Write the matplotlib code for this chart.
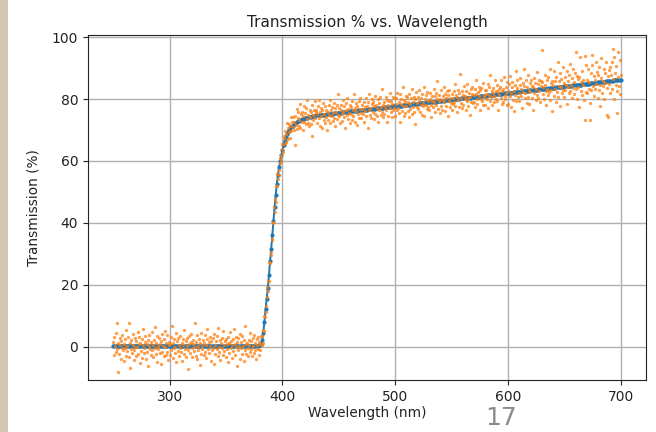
import numpy as np
import matplotlib
matplotlib.use("Agg")
import matplotlib.pyplot as plt
from matplotlib.patches import Rectangle

# Fitted / model curve (blue), 1 nm steps from 250 to 700 nm
model_flat = [
    0.3, 0.3, 0.3, 0.3, 0.3, 0.3, 0.3, 0.3, 0.3, 0.3, 0.3, 0.3, 0.3, 0.3, 0.3, 0.3, 0.3, 0.3, 0.3, 0.3,
    0.3, 0.3, 0.3, 0.3, 0.3, 0.3, 0.3, 0.3, 0.3, 0.3, 0.3, 0.3, 0.3, 0.3, 0.3, 0.3, 0.3, 0.3, 0.3, 0.3,
    0.3, 0.3, 0.3, 0.3, 0.3, 0.3, 0.3, 0.3, 0.3, 0.3, 0.3, 0.3, 0.3, 0.3, 0.3, 0.3, 0.3, 0.3, 0.3, 0.3,
    0.3, 0.3, 0.3, 0.3, 0.3, 0.3, 0.3, 0.3, 0.3, 0.3, 0.3, 0.3, 0.3, 0.3, 0.3, 0.3, 0.3, 0.3, 0.3, 0.3,
    0.3, 0.3, 0.3, 0.3, 0.3, 0.3, 0.3, 0.3, 0.3, 0.3, 0.3, 0.3, 0.3, 0.3, 0.3, 0.3, 0.3, 0.3, 0.3, 0.3,
    0.3, 0.3, 0.3, 0.3, 0.3, 0.3, 0.3, 0.3, 0.3, 0.3, 0.3, 0.3, 0.3, 0.3, 0.3, 0.3, 0.3, 0.3, 0.3, 0.3,
    0.3, 0.3, 0.3, 0.3, 0.3, 0.3, 0.3, 0.3, 0.3, 0.4, 0.6,
]
model_rise = [
    0.8, 2.0, 4.5, 8.0, 12.0, 15.5, 19.0, 23.0, 27.5,
    31.5, 36.0, 40.5, 45.0, 49.0, 52.5, 55.5, 58.0, 60.0, 61.8,
    63.5, 65.0, 66.5, 67.7, 68.7, 69.5, 70.0, 70.5, 71.0, 71.4,
    71.8, 72.1, 72.4, 72.6, 72.8, 73.0, 73.2, 73.4, 73.5, 73.7,
    73.8, 73.9, 74.0, 74.1, 74.2, 74.3, 74.4, 74.4, 74.5, 74.6,
]
model_plateau = [
    74.7, 74.7, 74.8, 74.8, 74.9, 74.9, 75.0, 75.0, 75.0, 75.1,
    75.1, 75.2, 75.2, 75.3, 75.3, 75.3, 75.4, 75.4, 75.5, 75.5,
    75.6, 75.6, 75.6, 75.7, 75.7, 75.8, 75.8, 75.9, 75.9, 75.9,
    76.0, 76.0, 76.1, 76.1, 76.2, 76.2, 76.2, 76.3, 76.3, 76.4,
    76.4, 76.4, 76.5, 76.5, 76.6, 76.6, 76.7, 76.7, 76.7, 76.8,
    76.8, 76.9, 76.9, 77.0, 77.0, 77.0, 77.1, 77.1, 77.2, 77.2,
    77.3, 77.3, 77.3, 77.4, 77.4, 77.5, 77.5, 77.6, 77.6, 77.6,
    77.7, 77.7, 77.8, 77.8, 77.9, 77.9, 77.9, 78.0, 78.0, 78.1,
    78.1, 78.2, 78.2, 78.2, 78.3, 78.3, 78.4, 78.4, 78.5, 78.5,
    78.5, 78.6, 78.6, 78.7, 78.7, 78.7, 78.8, 78.8, 78.9, 78.9,
    79.0, 79.0, 79.0, 79.1, 79.1, 79.2, 79.2, 79.3, 79.3, 79.3,
    79.4, 79.4, 79.5, 79.5, 79.6, 79.6, 79.6, 79.7, 79.7, 79.8,
    79.8, 79.9, 79.9, 79.9, 80.0, 80.0, 80.1, 80.1, 80.2, 80.2,
    80.2, 80.3, 80.3, 80.4, 80.4, 80.5, 80.5, 80.5, 80.6, 80.6,
    80.7, 80.7, 80.7, 80.8, 80.8, 80.9, 80.9, 81.0, 81.0, 81.0,
    81.1, 81.1, 81.2, 81.2, 81.3, 81.3, 81.3, 81.4, 81.4, 81.5,
    81.5, 81.6, 81.6, 81.6, 81.7, 81.7, 81.8, 81.8, 81.9, 81.9,
    81.9, 82.0, 82.0, 82.1, 82.1, 82.2, 82.2, 82.2, 82.3, 82.3,
    82.4, 82.4, 82.5, 82.5, 82.5, 82.6, 82.6, 82.7, 82.7, 82.8,
    82.8, 82.8, 82.9, 82.9, 83.0, 83.0, 83.0, 83.1, 83.1, 83.2,
    83.2, 83.3, 83.3, 83.4, 83.4, 83.4, 83.5, 83.5, 83.6, 83.6,
    83.6, 83.7, 83.7, 83.8, 83.8, 83.9, 83.9, 84.0, 84.0, 84.0,
    84.1, 84.1, 84.2, 84.2, 84.2, 84.3, 84.3, 84.4, 84.4, 84.5,
    84.5, 84.5, 84.6, 84.6, 84.7, 84.7, 84.8, 84.8, 84.8, 84.9,
    84.9, 85.0, 85.0, 85.1, 85.1, 85.1, 85.2, 85.2, 85.3, 85.3,
    85.4, 85.4, 85.4, 85.5, 85.5, 85.6, 85.6, 85.7, 85.7, 85.7,
    85.8, 85.8, 85.9, 85.9, 86.0, 86.0, 86.0, 86.1, 86.1, 86.2,
    86.2,
]

# Measured transmission (orange), 0.5 nm steps from 250 to 700 nm
measured_low = [
    1.5, -2.6, 3.1, 0.2, -1.8, 4.4, -0.9, 7.6, -8.1, 1.0, -2.3, 2.7, 0.6, -3.9, 1.9, -0.4, 3.6, -1.2, 0.8, -4.7,
    2.4, -0.6, 5.3, -2.9, 0.3, -1.5, 3.2, -3.4, 7.5, -6.9, 1.3, -0.8, 2.0, -2.2, 4.1, 0.5, -1.0, -4.2, 2.8, 0.0,
    -3.1, 1.7, -0.2, 4.6, -2.5, 0.9, 3.0, -5.3, 1.1, -1.3, 2.5, -3.6, 0.4, 5.8, -0.5, -2.0, 1.4, 3.3, -4.0, 0.7,
    -1.7, 2.2, -6.2, 0.1, 3.9, -0.9, 1.6, -2.7, 4.8, -1.1, 0.6, -3.3, 2.1, 6.3, -0.3, -2.4, 1.2, -4.9, 3.4, 0.2,
    -0.7, 2.9, -2.2, 0.8, -5.6, 1.8, 4.2, -1.6, 0.3, -3.0, 2.6, -0.1, 5.0, -2.8, 1.0, -1.9, 3.7, -4.4, 0.5, 1.5,
    -2.6, 0.9, 3.1, -1.0, 6.8, -3.7, 1.3, -0.6, 2.4, -2.1, 0.0, 4.5, -5.0, 1.9, -1.4, 2.8, -3.2, 0.6, -0.4, 3.5,
    -1.8, 1.1, -4.6, 2.3, 0.4, -2.5, 5.4, -0.8, 1.7, -3.5, 0.2, 2.9, -1.2, -7.2, 3.3, 0.7, -2.0, 1.4, 4.0, -0.5,
    -3.4, 0.8, 2.0, -1.5, 7.7, -0.2, 1.6, -2.9, 3.8, -4.1, 0.3, -1.0, 2.6, -6.0, 1.2, 4.3, -2.3, 0.1, -0.9, 2.2,
    -2.7, 1.0, 3.6, -1.6, 0.5, -3.8, 2.4, 5.6, -0.7, 1.5, -2.0, 0.2, 3.0, -4.5, 1.8, -1.1, 2.7, -0.3, -5.7, 4.1,
    0.6, -2.4, 1.9, -0.8, 3.4, -3.0, 6.0, 0.0, -1.7, 2.1, -4.2, 1.3, -0.5, 2.8, -2.6, 4.9, 0.4, -1.3, 1.7, -3.3,
    2.5, -0.9, 0.7, -5.1, 3.2, 1.1, -2.1, 4.6, -0.4, 1.8, -3.6, 0.5, 2.3, -1.4, 5.7, -2.8, 0.9, -0.2, 3.0, -6.4,
    1.4, -1.1, 2.7, 0.1, -3.9, 4.0, -0.6, 1.6, -2.3, 3.5, 0.3, -4.8, 2.0, -1.0, 6.5, -2.5, 0.8, 1.3, -0.3, -3.1,
    2.2, 0.6, -1.9, 4.4, -0.7, 1.9, -3.2, 2.9, 0.2, -2.0, 3.8, -1.2, 1.0, -4.0, 2.5, 0.4, -0.8, 3.1, -2.6, 1.6,
    0.9,
]
measured_rise = [
    -1.1, 3.4, 0.5, 3.5, 1.0, 5.3, 4.9, 10.0, 9.4, 13.1, 11.3, 16.0, 19.1, 18.0, 21.3, 21.3, 27.4, 27.1, 30.7,
    29.5, 34.6, 34.9, 39.8, 40.3, 45.1, 43.5, 47.7, 46.7, 52.0, 51.9, 55.8, 54.3, 57.1, 55.4, 61.1, 59.2, 61.9, 59.9, 65.4,
    63.7, 62.8, 68.0, 67.4, 65.6, 69.6, 66.1, 68.8, 72.1, 67.0, 70.7, 69.4, 72.0, 67.4, 71.4, 74.3, 69.8, 72.7, 71.0, 74.3,
    70.0, 72.5, 65.1, 74.4, 71.5, 76.8, 70.3, 73.8, 75.8, 71.4, 73.3, 78.3, 70.6, 75.1, 72.7, 75.9, 70.1, 74.4, 77.7, 72.6,
    75.4, 71.9, 77.0, 73.5, 79.8, 72.4, 75.0, 71.2, 76.5, 74.1, 75.7, 71.9, 78.1, 68.1, 75.0, 73.2, 76.5, 79.5, 73.8, 75.9,
]
measured_high = [
    76.6, 72.4, 75.1, 77.9, 73.8, 79.8, 71.2, 75.7, 77.1, 74.4, 70.5, 76.3, 78.8, 73.3, 75.1, 72.4, 77.7, 74.3, 76.6, 69.9,
    75.7, 73.3, 78.1, 75.0, 79.6, 72.1, 76.4, 74.4, 77.3, 72.9, 75.6, 78.8, 74.0, 71.4, 77.1, 75.9, 73.5, 78.1, 74.9, 81.7,
    74.4, 77.0, 72.3, 76.5, 78.0, 75.3, 73.0, 79.6, 75.9, 74.2, 77.7, 70.8, 76.5, 78.7, 75.0, 80.5, 73.7, 76.9, 75.6, 72.2,
    78.1, 75.3, 77.3, 73.1, 79.5, 76.5, 74.6, 81.6, 72.7, 77.1, 76.1, 78.7, 71.6, 77.8, 75.2, 79.3, 74.0, 76.9, 80.5, 75.6,
    73.9, 78.2, 76.7, 75.1, 79.2, 72.6, 77.3, 76.0, 80.2, 74.6, 77.8, 70.5, 78.9, 76.5, 81.5, 75.0, 77.2, 73.9, 78.3, 80.0,
    75.9, 79.1, 73.7, 77.6, 75.1, 80.9, 78.1, 74.5, 77.2, 79.9, 72.7, 78.6, 76.5, 80.6, 75.0, 77.5, 83.1, 75.9, 78.2, 74.2,
    79.0, 75.1, 77.4, 80.6, 76.3, 72.6, 79.8, 78.0, 74.5, 79.3, 82.0, 77.2, 75.9, 79.5, 74.2, 78.5, 80.7, 76.4, 77.2, 80.2,
    74.6, 78.5, 80.2, 76.3, 82.0, 77.2, 75.4, 79.1, 81.6, 72.6, 78.3, 79.9, 76.0, 83.9, 77.8, 74.4, 79.8, 78.9, 75.4, 81.1,
    77.6, 80.8, 76.1, 79.2, 74.2, 81.6, 78.4, 76.9, 80.2, 75.3, 83.2, 77.5, 79.0, 80.7, 75.9, 71.9, 79.9, 82.3, 77.4, 78.8,
    80.7, 76.8, 79.5, 82.9, 75.8, 78.2, 80.3, 74.9, 81.5, 78.8, 77.7, 84.0, 74.4, 80.0, 78.1, 81.3, 76.7, 82.3, 79.4, 77.4,
    76.4, 80.1, 82.1, 78.1, 74.1, 81.0, 79.4, 77.3, 83.1, 78.9, 80.9, 75.9, 81.8, 78.0, 80.1, 85.9, 76.9, 79.3, 81.2, 75.6,
    80.1, 83.0, 77.9, 76.5, 80.9, 79.7, 83.9, 78.9, 76.1, 81.7, 77.7, 80.5, 82.5, 74.4, 81.2, 79.4, 83.0, 77.4, 80.3, 78.7,
    76.6, 81.7, 80.3, 78.3, 82.6, 79.1, 85.0, 77.9, 81.2, 75.9, 80.6, 83.0, 79.6, 77.5, 81.9, 88.0, 78.8, 80.4, 82.6, 77.2,
    81.2, 78.0, 84.2, 79.9, 81.1, 76.6, 82.6, 79.4, 85.0, 80.3, 77.7, 82.1, 80.8, 74.9, 83.4, 79.2, 81.7, 84.0, 78.6, 81.2,
    79.0, 83.2, 77.3, 81.6, 86.2, 80.0, 78.5, 82.2, 80.9, 83.9, 76.4, 82.8, 80.0, 83.5, 79.4, 78.0, 85.2, 81.4, 80.8, 83.0,
    78.2, 81.6, 82.8, 79.9, 85.0, 77.0, 81.2, 83.9, 79.5, 87.7, 80.7, 82.6, 78.2, 82.1, 83.7, 79.0, 81.1, 86.1, 80.0, 82.5,
    84.5, 79.5, 82.2, 76.6, 83.4, 81.2, 84.0, 80.2, 86.0, 78.4, 82.6, 83.2, 79.1, 87.0, 81.0, 79.9, 84.0, 81.8, 85.5, 78.0,
    82.7, 78.3, 84.9, 80.9, 87.6, 81.8, 77.3, 84.0, 85.5, 79.8, 82.6, 76.0, 84.6, 81.3, 89.1, 79.4, 83.5, 86.2, 80.6, 81.8,
    79.4, 84.4, 86.9, 81.0, 83.1, 77.2, 85.2, 82.2, 84.1, 89.7, 80.4, 81.8, 86.1, 78.7, 83.8, 80.8, 87.7, 82.9, 78.4, 85.1,
    82.2, 86.1, 80.3, 84.2, 76.3, 83.8, 86.9, 81.8, 85.1, 79.6, 83.3, 88.9, 81.4, 84.8, 80.2, 86.1, 82.7, 79.0, 85.8, 84.2,
    85.6, 95.9, 81.5, 84.0, 80.1, 87.9, 84.6, 82.5, 78.0, 86.2, 83.4, 81.3, 87.2, 82.2, 89.6, 79.7, 85.1, 82.9, 85.8, 76.2,
    84.5, 80.9, 89.0, 83.2, 85.7, 79.1, 87.0, 82.3, 91.9, 80.7, 84.3, 85.8, 77.9, 88.3, 83.8, 86.6, 82.0, 90.5, 83.0, 85.3,
    80.6, 87.0, 82.9, 84.6, 89.0, 78.5, 85.8, 83.8, 87.7, 81.8, 91.3, 82.6, 84.5, 80.4, 86.7, 89.8, 83.5, 81.6, 85.6, 88.4,
    83.1, 95.3, 80.1, 87.6, 83.9, 86.4, 77.4, 87.0, 93.7, 82.6, 85.5, 81.4, 89.0, 84.7, 86.3, 79.8, 94.0, 73.3, 91.1, 82.3,
    86.1, 81.9, 89.7, 83.4, 85.4, 78.6, 73.1, 88.3, 83.0, 91.0, 94.2, 84.3, 87.3, 80.9, 86.1, 83.3, 92.0, 85.0, 88.8, 80.2,
    87.7, 82.8, 90.4, 84.7, 77.7, 86.9, 93.4, 81.9, 85.7, 84.3, 89.7, 80.1, 88.4, 85.1, 92.0, 83.5, 74.9, 87.4, 74.2, 89.3,
    84.8, 90.2, 81.9, 87.8, 91.9, 83.2, 86.6, 96.1, 93.7, 80.0, 88.4, 84.4, 90.8, 82.7, 75.6, 95.1, 87.0, 84.1, 92.7, 81.6,
    87.7,
]

wl_start, wl_end = 250, 700
title = "Transmission % vs. Wavelength"
xlabel = "Wavelength (nm)"
ylabel = "Transmission (%)"

model = model_flat + model_rise + model_plateau
measured = measured_low + measured_rise + measured_high
wl_model = np.linspace(wl_start, wl_end, len(model))
wl_meas = np.linspace(wl_start, wl_end, len(measured))

plt.rcParams['font.family'] = ['DejaVu Sans']
fig = plt.figure(figsize=(6.56, 4.32), dpi=100)
fig.patch.set_facecolor('white')

# slide background strip on the left edge
fig.patches.append(Rectangle((0, 0), 8 / 656, 1, transform=fig.transFigure,
                             facecolor='#d3c5b1', edgecolor='none', zorder=-5))

ax = fig.add_axes([88 / 656, 52 / 432, 558 / 656, 345 / 432])
ax.plot(wl_model, model, color='#1f77b4', marker='o', markersize=2.0,
        linewidth=1.4, zorder=3)
ax.plot(wl_meas, measured, color='#ff7f0e', marker='o', markersize=2.4,
        linestyle='none', alpha=0.75, markeredgewidth=0, zorder=4)

ax.set_xlim(227.5, 722.5)
ax.set_ylim(-10.8, 100.7)
ax.set_xticks([300, 400, 500, 600, 700])
ax.set_yticks([0, 20, 40, 60, 80, 100])
ax.grid(True, color='#b0b0b0', linewidth=1.0)
ax.set_axisbelow(True)
for s in ax.spines.values():
    s.set_color('#222222')
ax.tick_params(labelsize=10, colors='#222222')
ax.set_title(title, fontsize=11, pad=6, color='#222222')
ax.set_xlabel(xlabel, fontsize=9.8, labelpad=2, color='#222222')
ax.set_ylabel(ylabel, fontsize=9.8, labelpad=8, color='#222222')

fig.text(501 / 656, 1 - 418 / 432, "17", fontsize=18, color='#8a8a8a',
         ha='center', va='center')

fig.savefig("out.png", dpi=100)
